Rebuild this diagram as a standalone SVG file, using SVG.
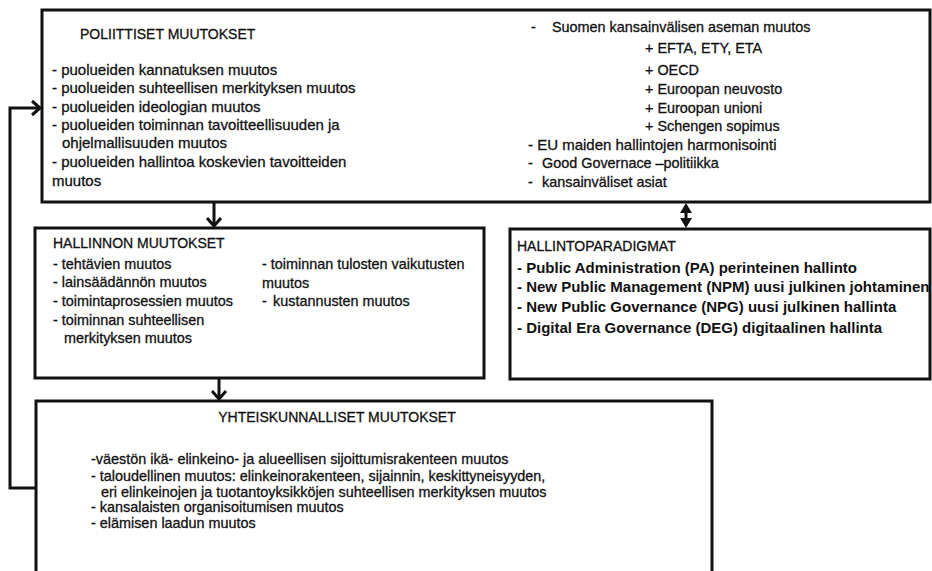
<svg xmlns="http://www.w3.org/2000/svg" width="932" height="571" viewBox="0 0 932 571">
  <style>
    .box { fill: #ffffff; stroke: #111111; stroke-width: 3; }
    .wire { fill: none; stroke: #111111; stroke-width: 3; }
    .head { fill: none; stroke: #111111; stroke-width: 3; stroke-linejoin: miter; }
    .tri { fill: #111111; }
    text { font-family: "Liberation Sans", Arial, sans-serif; fill: #111111; stroke: #111111; stroke-width: 0.3; }
    .t15 { font-size: 15px; }
    .t14 { font-size: 14.4px; }
    .ttl { font-size: 14px; }
    .bold { font-weight: bold; font-size: 15px; stroke-width: 0; }
  </style>
  <rect width="932" height="571" fill="#ffffff"/>

  <g id="connectors">
    <!-- political -> administrative -->
    <line class="wire" x1="214" y1="202" x2="214" y2="225"/>
    <polyline class="head" points="207,218 214,226 221,218"/>
    <!-- political <-> paradigms -->
    <line class="wire" x1="686" y1="206" x2="686" y2="225"/>
    <polygon class="tri" points="680,213 686,203 692,213"/>
    <polygon class="tri" points="680,218 686,228 692,218"/>
    <!-- administrative -> societal -->
    <line class="wire" x1="219" y1="379" x2="219" y2="398"/>
    <polyline class="head" points="212,391 219,399 226,391"/>
    <!-- societal feedback to political -->
    <polyline class="wire" points="36,488 10,488 10,108 39,108"/>
    <polyline class="head" points="32,101 40,108 32,115"/>
  </g>

  <g id="poliittiset">
    <rect class="box" x="42" y="10" width="888" height="192"/>
    <text class="ttl" x="80" y="39">POLIITTISET MUUTOKSET</text>
    <text class="t15" x="52" y="75">- puolueiden kannatuksen muutos</text>
    <text class="t15" x="52" y="93">- puolueiden suhteellisen merkityksen muutos</text>
    <text class="t15" x="52" y="112">- puolueiden ideologian muutos</text>
    <text class="t15" x="52" y="130">- puolueiden toiminnan tavoitteellisuuden ja</text>
    <text class="t15" x="62" y="148">ohjelmallisuuden muutos</text>
    <text class="t15" x="52" y="167">- puolueiden hallintoa koskevien tavoitteiden</text>
    <text class="t15" x="52" y="186">muutos</text>
    <text class="t14" x="531" y="32">-</text>
    <text class="t14" x="552" y="32">Suomen kansainvälisen aseman muutos</text>
    <text class="t14" x="645" y="53">+ EFTA, ETY, ETA</text>
    <text class="t14" x="645" y="75">+ OECD</text>
    <text class="t14" x="645" y="94">+ Euroopan neuvosto</text>
    <text class="t14" x="645" y="113">+ Euroopan unioni</text>
    <text class="t14" x="645" y="131">+ Schengen sopimus</text>
    <text class="t15" x="528" y="150">- EU maiden hallintojen harmonisointi</text>
    <text class="t14" x="528" y="168">- </text>
    <text class="t14" x="542" y="168">Good Governace –politiikka</text>
    <text class="t14" x="528" y="187">- </text>
    <text class="t14" x="542" y="187">kansainväliset asiat</text>
  </g>

  <g id="hallinnon">
    <rect class="box" x="35" y="228" width="449" height="150"/>
    <text class="ttl" x="53" y="248">HALLINNON MUUTOKSET</text>
    <text class="t14" x="53" y="269">- tehtävien muutos</text>
    <text class="t14" x="53" y="287">- lainsäädännön muutos</text>
    <text class="t14" x="53" y="306">- toimintaprosessien muutos</text>
    <text class="t14" x="53" y="325">- toiminnan suhteellisen</text>
    <text class="t14" x="64" y="343">merkityksen muutos</text>
    <text class="t14" x="262" y="269">- toiminnan tulosten vaikutusten</text>
    <text class="t14" x="262" y="288">muutos</text>
    <text class="t14" x="262" y="306">-</text>
    <text class="t14" x="273" y="306">kustannusten muutos</text>
  </g>

  <g id="paradigmat">
    <rect class="box" x="510" y="229" width="420" height="150"/>
    <text class="ttl" x="517" y="251">HALLINTOPARADIGMAT</text>
    <text class="bold" x="517" y="273">- Public Administration (PA) perinteinen hallinto</text>
    <text class="bold" x="517" y="292">- New Public Management (NPM) uusi julkinen johtaminen</text>
    <text class="bold" x="517" y="312">- New Public Governance (NPG) uusi julkinen hallinta</text>
    <text class="bold" x="517" y="333">- Digital Era Governance (DEG) digitaalinen hallinta</text>
  </g>

  <g id="yhteiskunnalliset">
    <rect class="box" x="36" y="401" width="676" height="200"/>
    <text class="ttl" x="337" y="422" text-anchor="middle">YHTEISKUNNALLISET MUUTOKSET</text>
    <text class="t14" x="91" y="464">-väestön ikä- elinkeino- ja alueellisen sijoittumisrakenteen muutos</text>
    <text class="t14" x="91" y="481">- taloudellinen muutos: elinkeinorakenteen, sijainnin, keskittyneisyyden,</text>
    <text class="t14" x="101" y="497">eri elinkeinojen ja tuotantoyksikköjen suhteellisen merkityksen muutos</text>
    <text class="t14" x="91" y="512">- kansalaisten organisoitumisen muutos</text>
    <text class="t14" x="91" y="528">- elämisen laadun muutos</text>
  </g>
</svg>
